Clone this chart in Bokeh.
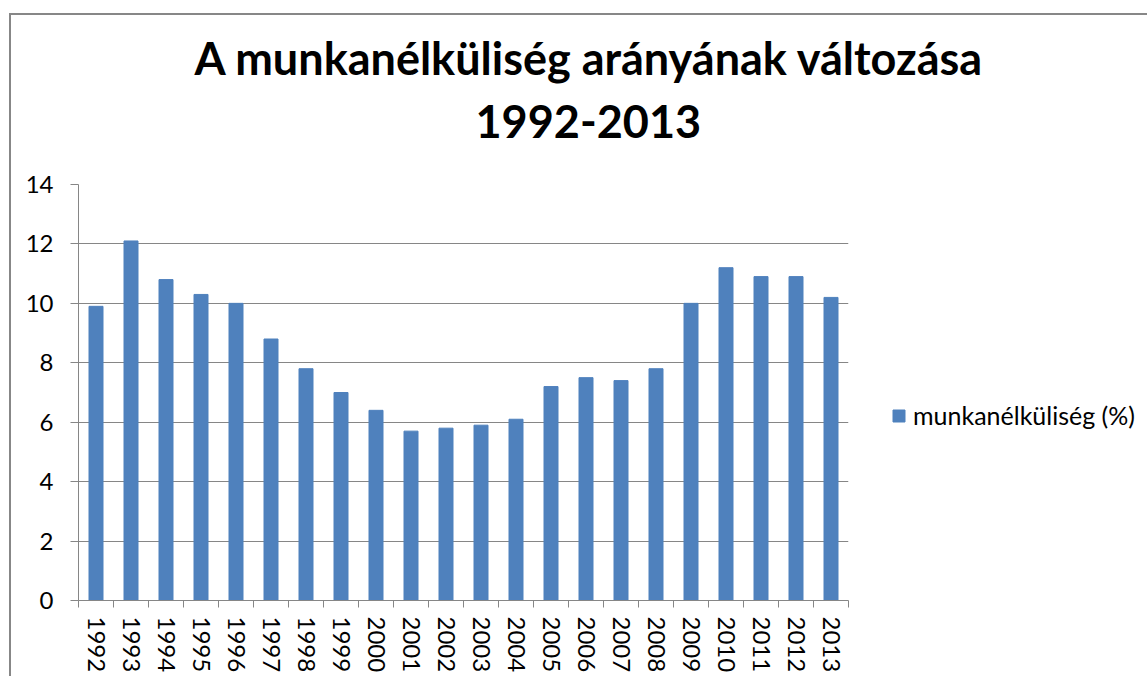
from bokeh.plotting import figure
from bokeh.models import Range1d, FixedTicker, Title, Legend, LegendItem, ColumnDataSource
from bokeh.embed import file_html
from bokeh.resources import INLINE

# ---- data ----
years = ["1992", "1993", "1994", "1995", "1996", "1997", "1998", "1999", "2000", "2001", "2002",
         "2003", "2004", "2005", "2006", "2007", "2008", "2009", "2010", "2011", "2012", "2013"]
unemployment = [9.9, 12.1, 10.8, 10.3, 10.0, 8.8, 7.8, 7.0, 6.4, 5.7, 5.8,
                5.9, 6.1, 7.2, 7.5, 7.4, 7.8, 10.0, 11.2, 10.9, 10.9, 10.2]
y_ticks = [0, 2, 4, 6, 8, 10, 12, 14]
series_name = "munkanélküliség (%)"
title_line1 = "A munkanélküliség arányának változása"
title_line2 = "1992-2013"

BAR = "#4F81BD"
GRID = "#868686"
FONT = "Lato"

idx = list(range(len(years)))
source = ColumnDataSource(dict(x=idx, year=years, value=unemployment))

p = figure(frame_width=770, frame_height=416, output_backend="svg", toolbar_location=None,
           x_range=Range1d(-0.5, len(years) - 0.5), y_range=Range1d(0, 14),
           min_border_left=67, min_border_right=298, min_border_top=169, min_border_bottom=76,
           background_fill_color="white", border_fill_color="white")
p.styles = {"border-left": "2px solid #878787", "border-top": "2px solid #878787",
            "margin-top": "13px", "margin-left": "9px"}
p.outline_line_color = None
p.xgrid.visible = False
p.ygrid.grid_line_color = GRID
p.ygrid.grid_line_width = 1
p.ygrid.ticker = FixedTicker(ticks=y_ticks)

r = p.vbar(x="x", top="value", width=0.4, source=source, fill_color=BAR, line_color=BAR)

# x axis: labels at category centres, tick marks at category boundaries
xa = p.xaxis[0]
xa.ticker = FixedTicker(ticks=idx, minor_ticks=[i - 0.5 for i in range(len(years) + 1)])
xa.major_label_overrides = {i: y for i, y in zip(idx, years)}
xa.major_tick_out = 0
xa.major_tick_in = 0
xa.minor_tick_out = 7
xa.minor_tick_in = 0
xa.minor_tick_line_color = GRID
xa.axis_line_color = GRID
xa.major_label_orientation = "vertical"
xa.major_label_text_font = FONT
xa.major_label_text_font_size = "24px"
xa.major_label_text_color = "black"
xa.major_label_standoff = 9

ya = p.yaxis[0]
ya.ticker = FixedTicker(ticks=y_ticks)
ya.major_tick_out = 8
ya.major_tick_in = 0
ya.minor_tick_out = 0
ya.minor_tick_in = 0
ya.major_tick_line_color = GRID
ya.axis_line_color = GRID
ya.major_label_text_font = FONT
ya.major_label_text_font_size = "24px"
ya.major_label_text_color = "black"
ya.major_label_standoff = 17

legend = Legend(items=[LegendItem(label=series_name, renderers=[r])], location=(43, 170),
                padding=0, margin=0, glyph_width=15, glyph_height=15, label_standoff=7,
                label_height=15, border_line_color=None, background_fill_alpha=0,
                label_text_font=FONT, label_text_font_size="25px", label_text_color="black")
p.add_layout(legend, "right")

p.add_layout(Title(text=title_line2, align="left", offset=397, text_font=FONT, text_font_size="45px",
                   text_font_style="bold", text_color="black", standoff=93), "above")
p.add_layout(Title(text=title_line1, align="left", offset=116, text_font=FONT, text_font_size="45px",
                   text_font_style="bold", text_color="black", standoff=-56), "above")

open("out.html", "w").write(file_html(p, INLINE))
